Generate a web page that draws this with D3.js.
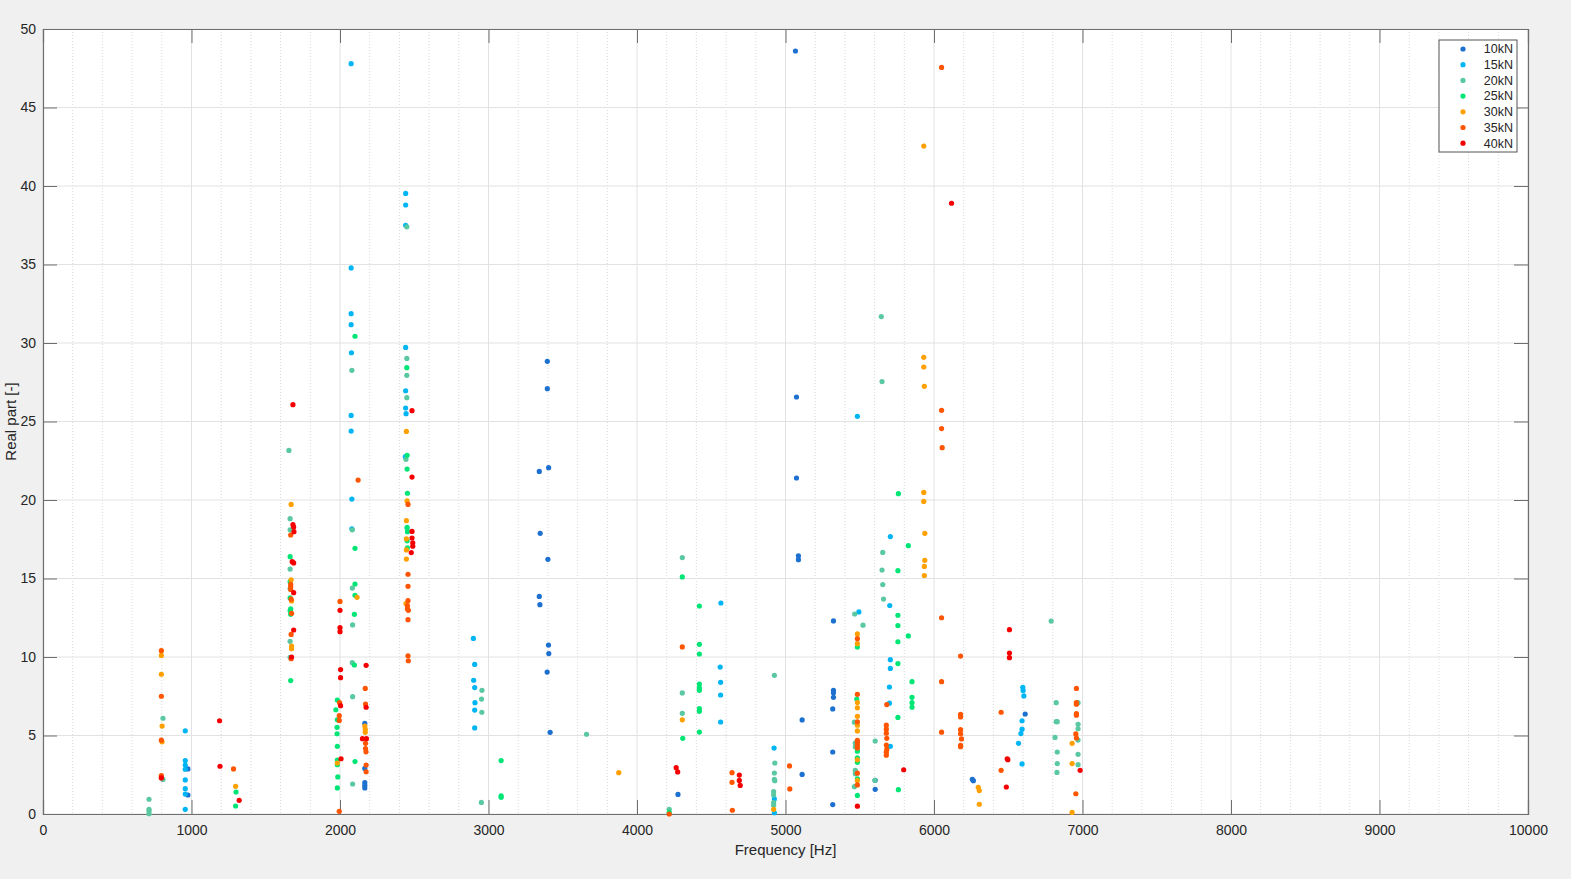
<!DOCTYPE html>
<html>
<head>
<meta charset="utf-8">
<script src="https://cdn.jsdelivr.net/npm/d3@7"></script>
<style>
  body { margin: 0; background: #f0f0f0; }
  svg { display: block; font-family: "Liberation Sans", Arial, sans-serif; }
</style>
</head>
<body>
<div id="chart"></div>
<script>
// load levels shown in the legend
const loadNames = ["10kN", "15kN", "20kN", "25kN", "30kN", "35kN", "40kN"];
const loadColors = ["#1c70cf", "#00b5f3", "#5ac8a0", "#00e676", "#ffa000", "#ff5500", "#f50000"];

// [frequency Hz, real part]
const pts10kN = [[976,2.87],[976,1.21],[2167,5.77],[2167,2.9],[2167,2.0],[2167,1.83],[2167,1.66],
  [3396,28.83],[3396,27.09],[3405,22.06],[3342,21.82],[3348,17.88],[3400,16.22],[3342,13.86],[3346,13.33],
  [3404,10.76],[3406,10.22],[3395,9.04],[3415,5.2],[4276,1.25],[5067,48.6],[5074,26.56],[5074,21.4],
  [5087,16.45],[5087,16.2],[5112,5.99],[5112,2.52],[5323,12.3],[5323,7.88],[5323,7.72],[5323,7.43],
  [5318,6.69],[5318,3.95],[5318,0.6],[5604,2.15],[5604,1.57],[6258,2.21],[6265,2.12],[6614,6.37]];
const pts15kN = [[958,5.3],[958,3.4],[958,3.12],[958,2.85],[958,2.17],[958,1.61],[958,1.27],[958,0.3],
  [2075,47.79],[2075,34.78],[2075,31.87],[2075,31.17],[2077,29.38],[2075,25.39],[2075,24.39],[2080,20.06],[2080,18.17],
  [2442,39.53],[2442,38.79],[2442,37.5],[2442,29.72],[2442,26.96],[2442,25.86],[2445,25.5],[2440,22.76],
  [2898,11.18],[2907,9.53],[2900,8.52],[2907,8.05],[2909,7.09],[2907,6.62],[2907,5.48],
  [4565,13.44],[4560,9.36],[4563,8.39],[4563,7.58],[4563,5.86],[4923,4.2],[4925,0.96],[4925,0.08],
  [5484,25.33],[5494,12.87],[5706,17.67],[5702,13.28],[5706,9.83],[5706,9.27],[5700,8.09],[5700,7.06],[5706,4.31],
  [6598,8.07],[6600,7.87],[6605,7.52],[6593,5.94],[6593,5.4],[6585,5.12],[6569,4.5],[6593,3.19]];
const pts20kN = [[714,0.94],[714,0.3],[714,0.19],[714,0.02],[808,6.1],[808,2.2],
  [1656,23.16],[1664,18.81],[1664,18.1],[1664,15.6],[1664,14.34],[1664,11.0],[1664,9.98],
  [2080,28.26],[2083,18.1],[2083,14.39],[2085,12.04],[2083,9.64],[2085,7.47],[2085,1.91],
  [2450,37.4],[2450,29.02],[2450,27.94],[2450,26.52],[2444,22.59],[2452,18.2],
  [2956,7.88],[2953,7.32],[2955,6.48],[2952,0.74],[3660,5.08],[4305,16.33],[4305,7.71],[4305,6.41],[4217,0.3],
  [4925,8.83],[4928,3.25],[4925,2.61],[4925,2.21],[4928,2.12],[4920,1.42],[4920,1.21],[4920,0.72],[4920,0.55],
  [5645,31.68],[5650,27.54],[5655,16.66],[5650,15.54],[5655,14.61],[5660,13.69],[5466,12.74],[5522,12.03],
  [5464,5.85],[5470,4.51],[5470,4.28],[5604,4.65],[5470,2.78],[5470,2.56],[5602,2.15],[5464,1.74],
  [6789,12.29],[6823,7.09],[6970,7.09],[6823,5.88],[6830,5.88],[6970,5.71],[6970,5.43],[6815,4.88],[6970,4.71],
  [6830,3.95],[6970,3.8],[6830,3.21],[6970,3.14],[6828,2.65]];
const pts25kN = [[1300,1.4],[1297,0.51],
  [1664,16.39],[1664,14.8],[1664,13.76],[1668,13.06],[1664,12.95],[1668,12.72],[1668,8.5],
  [1982,7.26],[1972,6.64],[1982,6.0],[1980,5.52],[1980,5.11],[1982,4.31],[1982,3.44],[1982,3.14],[1985,2.36],[1982,1.66],
  [2101,30.43],[2101,16.92],[2101,14.65],[2101,13.93],[2097,12.72],[2097,9.49],[2101,3.34],
  [2450,28.43],[2452,22.85],[2452,21.97],[2454,20.43],[2452,18.26],[2454,17.98],[2452,17.4],[2454,16.96],
  [3085,3.4],[3085,1.15],[3085,1.06],
  [4305,15.1],[4420,13.25],[4420,10.81],[4420,10.19],[4420,8.28],[4420,8.03],[4420,7.88],[4420,6.71],[4420,6.54],
  [4420,5.22],[4308,4.82],[4217,0.1],
  [5760,20.4],[5827,17.09],[5757,15.5],[5757,12.66],[5757,12.0],[5757,10.97],[5827,11.34],[5484,10.63],[5757,9.58],
  [5852,8.43],[5480,7.32],[5852,7.43],[5852,7.09],[5852,6.8],[5757,6.15],[5484,4.0],[5484,3.57],[5484,3.29],
  [5484,2.24],[5760,1.55],[5484,1.18]];
const pts30kN = [[797,10.1],[797,8.9],[802,5.6],[802,4.6],[1297,1.76],
  [1671,19.72],[1671,14.92],[1674,13.57],[1674,10.7],[1674,10.53],[1982,3.25],[2115,13.8],
  [2167,5.6],[2170,5.4],[2170,5.2],
  [2447,24.37],[2452,19.94],[2447,18.68],[2447,17.53],[2447,16.82],[2447,16.24],[2444,13.4],
  [3877,2.63],[4305,6.0],[4920,0.3],
  [5931,42.54],[5931,29.09],[5931,28.47],[5935,27.24],[5931,20.48],[5931,19.91],[5938,17.88],[5938,16.16],[5935,15.77],[5935,15.19],
  [5484,11.47],[5484,10.85],[5484,7.1],[5484,6.76],[5484,6.22],[5484,5.66],[5484,5.29],[5484,3.45],[5484,2.13],
  [6930,4.5],[6930,3.21],[6930,0.1],[6298,1.7],[6305,1.49],[6305,0.62]];
const pts35kN = [[797,10.4],[797,7.5],[797,4.7],[797,2.45],[797,2.35],[1283,2.87],
  [1668,17.77],[1668,14.63],[1668,14.48],[1668,14.3],[1671,13.68],[1674,12.78],[1671,11.44],[1671,9.89],
  [2000,13.54],[1997,7.09],[1995,6.26],[1995,5.96],[1995,0.17],[2122,21.27],
  [2170,8.0],[2172,7.0],[2172,4.5],[2172,4.17],[2175,3.96],[2176,3.12],[2176,2.69],
  [2458,19.72],[2458,15.27],[2458,14.5],[2458,13.59],[2454,13.27],[2454,13.08],[2460,12.97],[2458,12.38],[2458,10.08],[2460,9.76],
  [4305,10.64],[4640,2.63],[4640,2.02],[4642,0.24],[5027,3.06],[5029,1.6],[4217,0.0],
  [6051,47.55],[6051,25.71],[6051,24.55],[6055,23.33],[6051,12.5],[6051,8.43],[6051,5.21],
  [5484,11.17],[5484,7.62],[5484,5.87],[5484,4.69],[5484,4.54],[5484,4.37],[5484,4.2],[5484,2.6],[5484,1.85],
  [5682,6.97],[5679,5.66],[5679,5.4],[5679,5.15],[5682,4.82],[5679,4.39],[5682,4.11],[5679,3.94],[5679,3.75],
  [6179,10.06],[6179,6.35],[6179,6.18],[6179,5.37],[6179,5.11],[6185,4.78],[6179,4.37],[6179,4.29],
  [6452,6.48],[6452,2.78],
  [6959,8.0],[6959,7.09],[6959,6.99],[6959,6.39],[6959,6.29],[6955,5.1],[6959,4.84],[6955,1.29]];
const pts40kN = [[797,2.3],[1189,5.94],[1192,3.04],[1321,0.87],
  [1683,26.07],[1683,18.43],[1688,18.28],[1690,17.98],[1678,16.07],[1688,15.99],[1688,14.1],[1688,11.72],[1674,10.0],
  [2000,12.97],[2000,11.87],[2000,11.61],[2004,9.2],[2004,8.68],[2004,6.9],[2007,3.52],
  [2176,9.47],[2176,6.8],[2151,4.8],[2178,4.8],
  [2485,25.69],[2485,21.46],[2485,18.0],[2485,17.58],[2490,17.27],[2490,17.06],[2480,16.65],
  [4264,2.95],[4274,2.68],[4689,2.48],[4689,2.14],[4695,1.82],[5796,2.82],[5484,0.5],[6118,38.9],
  [6508,11.74],[6508,10.25],[6508,9.96],[6493,3.52],[6497,3.46],[6487,1.72],[6984,2.78]];
const allSeries = [pts10kN, pts15kN, pts20kN, pts25kN, pts30kN, pts35kN, pts40kN];

const xTicks = d3.range(0, 10001, 1000);
const xMinorTicks = d3.range(0, 10001, 200).filter(v => v % 1000 !== 0);
const yTicks = d3.range(0, 51, 5);

const W = 1571, H = 879;
const margin = {left: 43, right: 43, top: 29, bottom: 65};
const iw = W - margin.left - margin.right;
const ih = H - margin.top - margin.bottom;

const svg = d3.select("#chart").append("svg")
    .attr("width", W)
    .attr("height", H);

svg.append("rect").attr("width", W).attr("height", H).attr("fill", "#f0f0f0");

const g = svg.append("g").attr("transform", `translate(${margin.left},${margin.top})`);

const x = d3.scaleLinear().domain([0, 10000]).range([0, iw]);
const y = d3.scaleLinear().domain([0, 50]).range([ih, 0]);

g.append("rect").attr("width", iw).attr("height", ih).attr("fill", "#fff");

// minor grid (x only, dotted)
g.append("g").selectAll("line").data(xMinorTicks).enter().append("line")
    .attr("x1", d => x(d)).attr("x2", d => x(d))
    .attr("y1", 0).attr("y2", ih)
    .attr("stroke", "#d9d9d9").attr("stroke-dasharray", "1,2");

// major grid
g.append("g").selectAll("line").data(xTicks).enter().append("line")
    .attr("x1", d => x(d)).attr("x2", d => x(d))
    .attr("y1", 0).attr("y2", ih)
    .attr("stroke", "#e2e2e2");
g.append("g").selectAll("line").data(yTicks).enter().append("line")
    .attr("x1", 0).attr("x2", iw)
    .attr("y1", d => y(d)).attr("y2", d => y(d))
    .attr("stroke", "#e2e2e2");

// axes, ticks pointing inward on all four sides
const tickLen = 14;
const axisColor = "#6e6e6e";
const textColor = "#262626";

const xAxis = g.append("g").attr("transform", `translate(0,${ih})`)
    .call(d3.axisBottom(x).tickValues(xTicks).tickSize(-tickLen).tickPadding(10).tickFormat(d3.format("d")));
const xAxisTop = g.append("g")
    .call(d3.axisTop(x).tickValues(xTicks).tickSize(-tickLen).tickFormat(""));
const yAxis = g.append("g")
    .call(d3.axisLeft(y).tickValues(yTicks).tickSize(-tickLen).tickPadding(7));
const yAxisRight = g.append("g").attr("transform", `translate(${iw},0)`)
    .call(d3.axisRight(y).tickValues(yTicks).tickSize(-tickLen).tickFormat(""));

[xAxis, xAxisTop, yAxis, yAxisRight].forEach(a => {
    a.select(".domain").attr("stroke", axisColor).attr("stroke-width", 1.2);
    a.selectAll(".tick line").attr("stroke", axisColor);
    a.selectAll(".tick text").attr("fill", textColor).style("font-size", "14px");
});
xAxis.selectAll(".tick text").attr("dy", "0.75em");

// points
allSeries.forEach((pts, i) => {
    g.append("g").selectAll("circle").data(pts).enter().append("circle")
        .attr("cx", d => x(d[0]))
        .attr("cy", d => y(d[1]))
        .attr("r", 2.6)
        .attr("fill", loadColors[i]);
});

// axis labels
svg.append("text")
    .attr("x", margin.left + iw / 2).attr("y", 855)
    .attr("text-anchor", "middle")
    .attr("fill", textColor).style("font-size", "15px")
    .text("Frequency [Hz]");
svg.append("text")
    .attr("transform", `translate(16,${margin.top + ih / 2}) rotate(-90)`)
    .attr("text-anchor", "middle")
    .attr("fill", textColor).style("font-size", "15px")
    .text("Real part [-]");

// legend
const legend = svg.append("g").attr("transform", "translate(1439,40)");
legend.append("rect")
    .attr("width", 78).attr("height", 112)
    .attr("fill", "#fff").attr("stroke", "#555").attr("stroke-width", 1);
loadNames.forEach((name, i) => {
    const ly = 9 + i * 15.7;
    legend.append("circle").attr("cx", 24).attr("cy", ly).attr("r", 2.6).attr("fill", loadColors[i]);
    legend.append("text")
        .attr("x", 74).attr("y", ly).attr("dy", "0.35em")
        .attr("text-anchor", "end")
        .attr("fill", textColor).style("font-size", "12.5px")
        .text(name);
});
</script>
</body>
</html>
